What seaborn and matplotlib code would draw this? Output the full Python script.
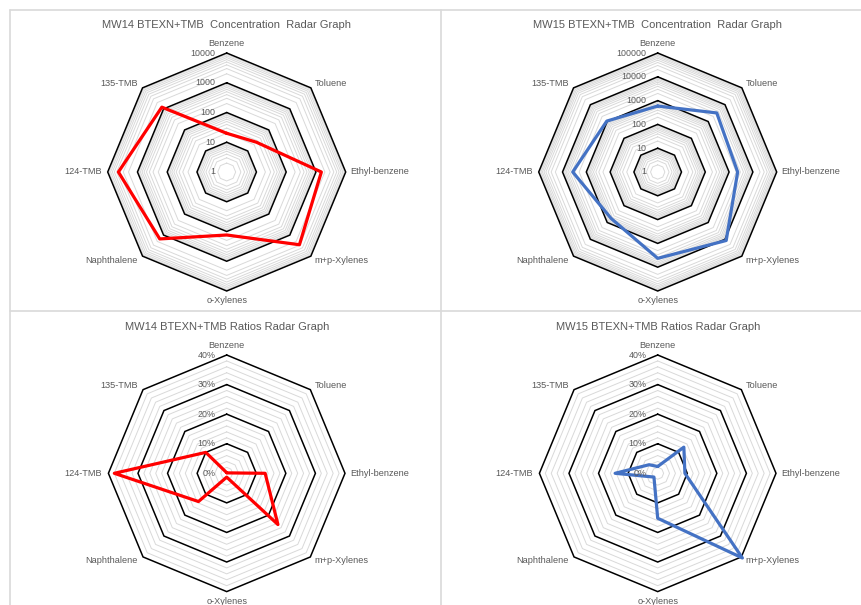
import numpy as np
import matplotlib
matplotlib.use("Agg")
import matplotlib.pyplot as plt
import seaborn as sns
from matplotlib.transforms import offset_copy
from matplotlib.lines import Line2D

sns.set_theme(style="white")
plt.rcParams["font.family"] = ["Liberation Sans", "DejaVu Sans"]

# ---- data -------------------------------------------------------------
compounds = ["Benzene", "Toluene", "Ethyl-benzene", "m+p-Xylenes",
             "o-Xylenes", "Naphthalene", "124-TMB", "135-TMB"]

mw14_conc = [20, 26, 1520, 2870, 131, 1520, 4370, 1210]
mw15_conc = [590, 3230, 2290, 11750, 4240, 580, 3720, 1060]

mw14_ratio = [0.002, 0.002, 0.13, 0.245, 0.013, 0.135, 0.38, 0.10]
mw15_ratio = [0.023, 0.125, 0.092, 0.405, 0.152, 0.018, 0.144, 0.041]

mw14_conc_ticks = ["1", "10", "100", "1000", "10000"]
mw15_conc_ticks = ["1", "10", "100", "1000", "10000", "100000"]
ratio_ticks = ["0%", "10%", "20%", "30%", "40%"]

titles = ["MW14 BTEXN+TMB  Concentration  Radar Graph",
          "MW15 BTEXN+TMB  Concentration  Radar Graph",
          "MW14 BTEXN+TMB Ratios Radar Graph",
          "MW15 BTEXN+TMB Ratios Radar Graph"]

# ---- style ------------------------------------------------------------
RED = "#FF0000"
BLUE = "#4472C4"
TEXT = "#595959"
MINOR = "#D9D9D9"
BORDER = "#D9D9D9"

W, H = 862, 605
fig = plt.figure(figsize=(W / 100, H / 100), dpi=100)
fig.patch.set_facecolor("white")

n = len(compounds)
theta = np.arange(n) * 2 * np.pi / n
theta_closed = np.append(theta, theta[0] + 2 * np.pi)

# label placement around the octagon: (dx, dy, ha, va) in pixels
label_pos = [(0, 5, "center", "bottom"),
             (4, 4, "left", "center"),
             (5, 0, "left", "center"),
             (4, -4, "left", "center"),
             (0, -5, "center", "top"),
             (-5, -4, "right", "center"),
             (-6, 0, "right", "center"),
             (-5, 4, "right", "center")]


def make_axes(cx, cy, R):
    ax = fig.add_axes([(cx - R) / W, (H - cy - R) / H, 2 * R / W, 2 * R / H],
                      projection="polar")
    ax.set_theta_zero_location("N")
    ax.set_theta_direction(-1)
    ax.patch.set_alpha(0)
    ax.spines["polar"].set_visible(False)
    ax.grid(False)
    return ax


def ring(ax, r, color, lw, z):
    ax.plot(theta_closed, [r] * (n + 1), color=color, lw=lw, zorder=z,
            clip_on=False, solid_joinstyle="miter")


def finish(ax, rmin, rmax, majors, tick_labels, values, color):
    sns.lineplot(x=theta_closed, y=list(values) + [values[0]], ax=ax,
                 sort=False, estimator=None, color=color, linewidth=2.3,
                 clip_on=False, zorder=5)
    ax.set_rlim(rmin, rmax)
    ax.set_xticks([])
    ax.set_yticks([])
    ax.set_xlabel("")
    ax.set_ylabel("")
    # value labels beside the Benzene axis
    tr = offset_copy(ax.transData, fig=fig, x=-11, y=0, units="dots")
    for v, lab in zip(majors, tick_labels):
        ax.text(0, v, lab, transform=tr, ha="right", va="center",
                fontsize=6.4, color=TEXT, zorder=6)
    # compound labels outside the vertices
    for t, name, (dx, dy, ha, va) in zip(theta, compounds, label_pos):
        trc = offset_copy(ax.transData, fig=fig, x=dx, y=dy, units="dots")
        ax.text(t, rmax, name, transform=trc, ha=ha, va=va,
                fontsize=6.6, color=TEXT, zorder=6)


def log_panel(cx, cy, R, decades, tick_labels, values, color, title, ty):
    ax = make_axes(cx, cy, R)
    ax.set_rscale("log")
    ax.set_rlim(1, 10 ** decades)
    for d in range(decades):
        for m in range(2, 10):
            ring(ax, m * 10 ** d, MINOR, 0.7, 1)
    majors = [10 ** d for d in range(decades + 1)]
    for v in majors[1:]:
        ring(ax, v, "black", 1.1, 2)
    finish(ax, 1, 10 ** decades, majors, tick_labels, values, color)
    fig.text(cx / W, 1 - ty / H, title, ha="center", va="center",
             fontsize=8, color=TEXT)


def ratio_panel(cx, cy, R, tick_labels, values, color, title, ty):
    ax = make_axes(cx, cy, R)
    ax.set_rlim(0, 0.4)
    for k in range(1, 20):
        if k % 5:
            ring(ax, k * 0.02, MINOR, 0.7, 1)
    majors = [0.0, 0.1, 0.2, 0.3, 0.4]
    for v in majors[1:]:
        ring(ax, v, "black", 1.1, 2)
    finish(ax, 0, 0.4, majors, tick_labels, values, color)
    fig.text(cx / W, 1 - ty / H, title, ha="center", va="center",
             fontsize=8, color=TEXT)


log_panel(226.7, 172, 119, 4, mw14_conc_ticks, mw14_conc, RED, titles[0], 25)
log_panel(657.7, 172, 119, 5, mw15_conc_ticks, mw15_conc, BLUE, titles[1], 25)
ratio_panel(226.7, 473.3, 118.3, ratio_ticks, mw14_ratio, RED, titles[2], 326.7)
ratio_panel(657.7, 473.3, 118.3, ratio_ticks, mw15_ratio, BLUE, titles[3], 326.7)

# panel frames
def hline(y, x0, x1):
    fig.add_artist(Line2D([x0 / W, x1 / W], [1 - y / H, 1 - y / H],
                          transform=fig.transFigure, color=BORDER, lw=1.2))


def vline(x, y0, y1):
    fig.add_artist(Line2D([x / W, x / W], [1 - y0 / H, 1 - y1 / H],
                          transform=fig.transFigure, color=BORDER, lw=1.2))


hline(9.5, 10.5, W)
hline(311, 10.5, W)
vline(10.5, 9.5, H)
vline(441.5, 9.5, H)

fig.savefig("out.png", dpi=100, facecolor="white")
